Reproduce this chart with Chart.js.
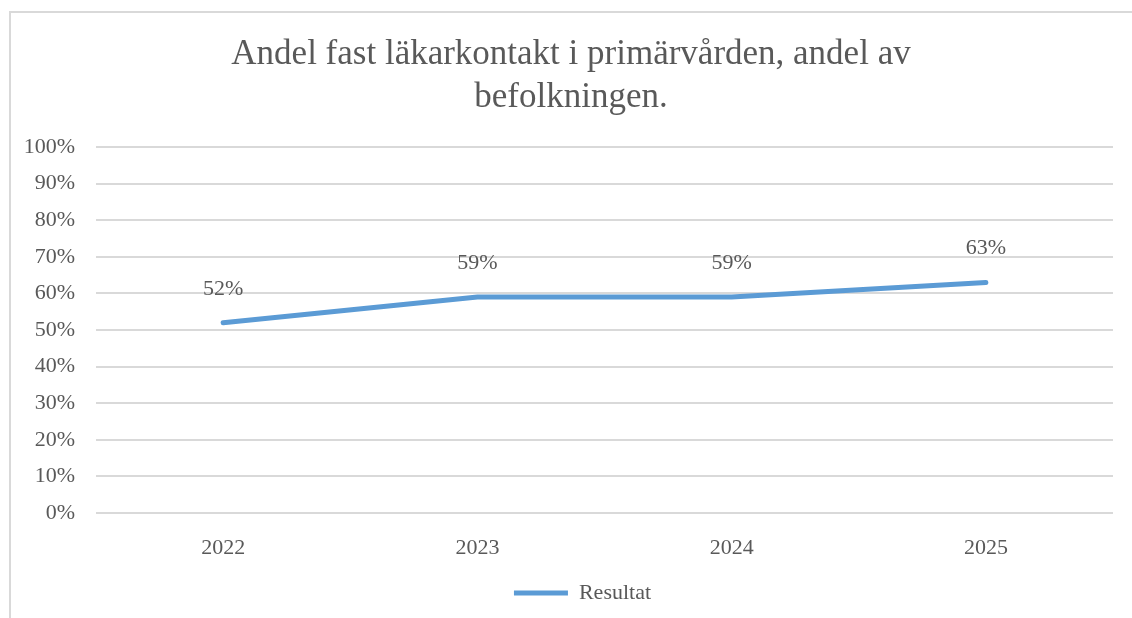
<!DOCTYPE html>
<html>
<head>
<meta charset="utf-8">
<script src="https://cdn.jsdelivr.net/npm/chart.js@4"></script>
<style>
  html, body { margin: 0; padding: 0; background: #fff; }
  #ram { position: absolute; left: 9px; top: 11px; width: 1200px; height: 700px; border: 2px solid #d9d9d9; box-sizing: border-box; }
  #wrap { position: absolute; left: 0; top: 0; width: 1132px; height: 618px; }
</style>
</head>
<body>
<div id="ram"></div>
<div id="wrap"><canvas id="diagram" width="1132" height="618"></canvas></div>
<script>
const ar = ["2022", "2023", "2024", "2025"];
const resultat = [52, 59, 59, 63]; // procent
const yTicks = [0, 10, 20, 30, 40, 50, 60, 70, 80, 90, 100];

const textFarg = "#595959";
const serif = "'Liberation Serif', 'DejaVu Serif', serif";

// Etiketter ovanför punkterna
const etiketter = {
  id: "etiketter",
  afterDatasetsDraw(chart) {
    const ctx = chart.ctx;
    const meta = chart.getDatasetMeta(0);
    ctx.save();
    ctx.font = "22px " + serif;
    ctx.fillStyle = textFarg;
    ctx.textAlign = "center";
    ctx.textBaseline = "middle";
    meta.data.forEach((p, i) => {
      ctx.fillText(resultat[i] + "%", p.x, p.y - 34);
    });
    ctx.restore();
  }
};

// Flytta titel och förklaring lite åt höger, som i originalet
const flytta = {
  id: "flytta",
  afterLayout(chart) {
    if (chart.legend) chart.legend.left = 52;
    if (chart.titleBlock) chart.titleBlock.left = 29;
  }
};

new Chart(document.getElementById("diagram"), {
  type: "line",
  data: {
    labels: ar,
    datasets: [{
      label: "Resultat",
      data: resultat,
      borderColor: "#5b9bd5",
      backgroundColor: "#5b9bd5",
      borderWidth: 5,
      borderCapStyle: "round",
      pointRadius: 0,
      pointHoverRadius: 0,
      tension: 0
    }]
  },
  options: {
    responsive: false,
    animation: false,
    layout: { padding: { left: 0, right: 19, top: 0, bottom: 4 } },
    plugins: {
      title: {
        display: true,
        text: ["Andel fast läkarkontakt i primärvården, andel av", "befolkningen."],
        color: textFarg,
        font: { family: serif, size: 35, weight: "normal", lineHeight: 1.23 },
        padding: { top: 33, bottom: 28 }
      },
      legend: {
        position: "bottom",
        labels: {
          color: textFarg,
          font: { family: serif, size: 22 },
          usePointStyle: true,
          pointStyle: "line",
          pointStyleWidth: 54,
          boxHeight: 5,
          padding: 10
        }
      },
      tooltip: { enabled: false }
    },
    scales: {
      x: {
        offset: true,
        grid: { display: false, offset: true },
        border: { display: false },
        ticks: { color: textFarg, font: { family: serif, size: 22 }, padding: 14 },
        afterFit(s) { s.height = 59; }
      },
      y: {
        min: 0,
        max: 100,
        afterBuildTicks(s) { s.ticks = yTicks.map(v => ({ value: v })); },
        grid: { color: "#d9d9d9", lineWidth: 2, drawTicks: false },
        border: { display: false },
        ticks: {
          color: textFarg,
          font: { family: serif, size: 22 },
          padding: 21,
          callback: v => v + "%"
        },
        afterFit(s) { s.width = 96; }
      }
    }
  },
  plugins: [etiketter, flytta]
});
</script>
</body>
</html>
